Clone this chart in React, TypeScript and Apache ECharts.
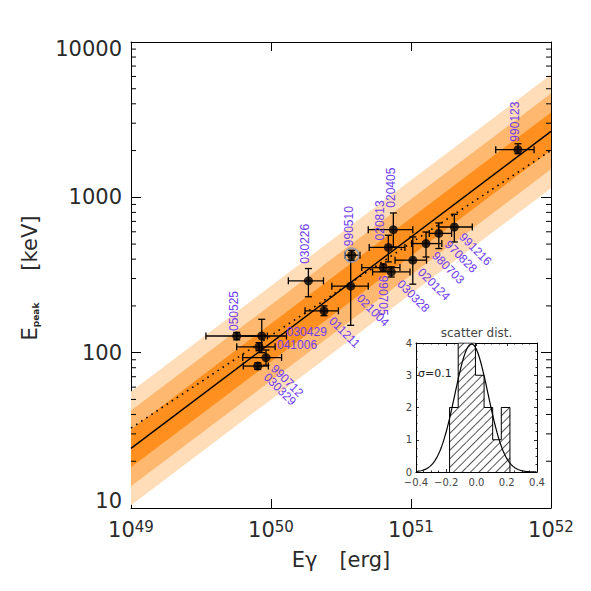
import React, { useEffect, useRef } from "react";
import * as echarts from "echarts";

// ---------------- data ----------------
const grbNames = ["050525", "030429", "041006", "990712", "030329", "011211", "030226", "990510", "021004", "990705", "030328", "020813", "020405", "020124", "980703", "970828", "991216", "990123"];
const eGamma = [5.69e49, 8.59e49, 8.21e49, 9.21e49, 8.04e49, 2.39e50, 1.85e50, 3.77e50, 3.71e50, 6.34e50, 7.23e50, 6.89e50, 7.48e50, 1.03e51, 1.28e51, 1.58e51, 2.04e51, 5.81e51];
const eGammaLow = [3.43e49, 5.69e49, 5.69e49, 6.28e49, 6.34e49, 1.75e50, 1.33e50, 3.38e50, 2.72e50, 4.45e50, 5.32e50, 5.03e50, 4.95e50, 7.69e50, 1.01e51, 1.35e51, 1.57e51, 4.03e51];
const eGammaHigh = [9.42e49, 1.29e50, 1.07e50, 1.19e50, 9.57e49, 3.03e50, 2.37e50, 4.32e50, 4.95e50, 8.34e50, 9.84e50, 9.05e50, 1.03e51, 1.29e51, 1.66e51, 1.95e51, 2.74e51, 7.57e51];
const ePeak = [128, 128, 109, 93, 82, 186, 290, 424, 268, 353, 331, 476, 619, 394, 504, 586, 644, 2028];
const ePeakLow = [121, 100, 103, 83, 78, 173, 229, 394, 150, 335, 307, 384, 479, 276, 413, 468, 516, 1910];
const ePeakHigh = [135, 164, 116, 104, 86, 200, 348, 456, 394, 372, 357, 570, 793, 556, 598, 684, 778, 2213];
const highlightedGrb = "990510";

const fitLine = [[1e49, 24.2], [1e52, 2660]];
const dottedLine = [[1e49, 32.7], [1e52, 2005]];
const bandHalfWidthDex = [0.366, 0.244, 0.122];

const yMinorTicks = [20, 30, 40, 50, 60, 70, 80, 90, 200, 300, 400, 500, 600, 700, 800, 900, 2000, 3000, 4000, 5000, 6000, 7000, 8000, 9000];

const histBinEdges = [-0.178, -0.121, -0.064, -0.007, 0.05, 0.107, 0.164, 0.221];
const histCounts = [2, 4, 4, 3, 2, 1, 2];
const scatterMean = -0.033;
const scatterSigma = 0.11;
const scatterPeak = 3.97;

// ---------------- styles / layout ----------------
const FONT = "DejaVu Sans ExtraLight, DejaVu Sans";
const LABEL_FONT = "Liberation Sans";
const TEXT_COLOR = "#2a2a2a";
const LABEL_COLOR = "#6E3CF0";
const BAND_COLORS = ["#FFDDB8", "#FFB870", "#FF901F"];
const plot = { left: 131, top: 42, width: 420, height: 466 };
const inset = { left: 416, top: 343, width: 121, height: 129 };

type Kind = "up" | "down" | "right" | "diag";
const labelPlacement: Record<string, [Kind, number, number]> = {
  "050525": ["up", -3, -5],
  "030429": ["right", 25, -4],
  "041006": ["right", 18, -2],
  "990712": ["diag", 7, 9],
  "030329": ["diag", 8, 9],
  "011211": ["diag", 7, 8],
  "030226": ["up", -3, -17],
  "990510": ["up", -3, -9],
  "021004": ["diag", 8, 10],
  "990705": ["down", 0, 8],
  "030328": ["diag", 8, 10],
  "020813": ["up", -8, -7],
  "020405": ["up", -2, -22],
  "020124": ["diag", 7, 10],
  "980703": ["diag", 8, 10],
  "970828": ["diag", 8, 9],
  "991216": ["diag", 7, 8],
  "990123": ["up", -3, -8],
};

function buildOption() {
  const histOutline: number[][] = [[histBinEdges[0], 0]];
  histCounts.forEach((c, i) => {
    histOutline.push([histBinEdges[i], c]);
    histOutline.push([histBinEdges[i + 1], c]);
  });
  histOutline.push([histBinEdges[histBinEdges.length - 1], 0]);

  const histBars = histCounts.map((c, i) => [(histBinEdges[i] + histBinEdges[i + 1]) / 2, c]);
  const binPx = ((histBinEdges[histBinEdges.length - 1] - histBinEdges[0]) / histCounts.length) * (inset.width / 0.8);

  const gauss: number[][] = [];
  for (let k = 0; k <= 200; k++) {
    const x = -0.4 + k * 0.004;
    gauss.push([x, scatterPeak * Math.exp(-((x - scatterMean) ** 2) / (2 * scatterSigma ** 2))]);
  }

  const hi = grbNames.indexOf(highlightedGrb);

  const mainTick = { show: true, inside: true, length: 9, lineStyle: { color: "#000", width: 1 } };
  const axisLine = { show: true, onZero: false, lineStyle: { color: "#000", width: 1 } };
  const insetTick = { show: true, inside: true, length: 3, lineStyle: { color: "#000", width: 0.8 } };
  const insetMinor = { show: true, length: 1.5, splitNumber: 4, lineStyle: { color: "#000", width: 0.8 } };
  const minusFmt = (v: number) => (v < -1e-9 ? "\u2212" : "") + Math.abs(v).toFixed(1);
  const yLabelStyle = { fontSize: 21, fontFamily: FONT, color: TEXT_COLOR };

  return {
    animation: false,
    backgroundColor: "#fff",
    grid: [
      { left: plot.left, top: plot.top, width: plot.width, height: plot.height, outerBoundsMode: "none", containLabel: false },
      { left: inset.left, top: inset.top, width: inset.width, height: inset.height, outerBoundsMode: "none", containLabel: false },
    ],
    xAxis: [
      {
        type: "log", gridIndex: 0, min: 1e49, max: 1e52, logBase: 10, position: "bottom",
        axisLine, axisTick: mainTick, splitLine: { show: false }, minorTick: { show: false },
        axisLabel: {
          margin: 11,
          formatter: (v: number) => `{b|10}{s|${Math.round(Math.log10(v))}}`,
          rich: {
            b: { fontSize: 21, fontFamily: FONT, color: TEXT_COLOR },
            s: { fontSize: 15, fontFamily: FONT, color: TEXT_COLOR, verticalAlign: "top" },
          },
        },
      },
      {
        type: "log", gridIndex: 0, min: 1e49, max: 1e52, logBase: 10, position: "top",
        axisLine, axisTick: mainTick, axisLabel: { show: false }, splitLine: { show: false },
      },
      {
        type: "value", gridIndex: 1, min: -0.4, max: 0.4, interval: 0.2, position: "bottom",
        axisLine, axisTick: insetTick, minorTick: insetMinor, splitLine: { show: false },
        axisLabel: { fontSize: 10, fontFamily: "DejaVu Sans", color: "#444", margin: 5, formatter: minusFmt },
      },
      {
        type: "value", gridIndex: 1, min: -0.4, max: 0.4, interval: 0.2, position: "top",
        axisLine, axisTick: insetTick, minorTick: insetMinor, splitLine: { show: false }, axisLabel: { show: false },
      },
    ],
    yAxis: [
      {
        type: "log", gridIndex: 0, min: 10, max: 10000, logBase: 10, position: "left",
        axisLine, axisTick: { ...mainTick, length: 10 }, splitLine: { show: false }, minorTick: { show: false },
        axisLabel: {
          margin: 9,
          formatter: (v: number) => {
            const r = Math.round(v);
            if (r <= 10) return `{lo|${r}}`;
            if (r >= 10000) return `{hi|${r}}`;
            return `{n|${r}}`;
          },
          rich: {
            n: yLabelStyle,
            lo: { ...yLabelStyle, padding: [0, 0, 15, 0] },
            hi: { ...yLabelStyle, padding: [13, 0, 0, 0] },
          },
        },
      },
      {
        type: "log", gridIndex: 0, min: 10, max: 10000, logBase: 10, position: "right",
        axisLine, axisTick: { ...mainTick, length: 10 }, axisLabel: { show: false }, splitLine: { show: false },
      },
      {
        type: "value", gridIndex: 1, min: 0, max: 4, interval: 1, position: "left",
        axisLine, axisTick: insetTick, minorTick: insetMinor, splitLine: { show: false },
        axisLabel: { fontSize: 10, fontFamily: "DejaVu Sans", color: "#444", margin: 4 },
      },
      {
        type: "value", gridIndex: 1, min: 0, max: 4, interval: 1, position: "right",
        axisLine, axisTick: insetTick, minorTick: insetMinor, splitLine: { show: false }, axisLabel: { show: false },
      },
    ],
    series: [
      {
        type: "custom", xAxisIndex: 0, yAxisIndex: 0, z: 1, silent: true,
        data: bandHalfWidthDex.map((w, i) => [fitLine[0][0], fitLine[0][1], i]),
        encode: { x: 0, y: 1 },
        renderItem: (params: any, api: any) => {
          const i = api.value(2);
          const f = Math.pow(10, bandHalfWidthDex[i]);
          const pts = [
            api.coord([fitLine[0][0], fitLine[0][1] * f]),
            api.coord([fitLine[1][0], fitLine[1][1] * f]),
            api.coord([fitLine[1][0], fitLine[1][1] / f]),
            api.coord([fitLine[0][0], fitLine[0][1] / f]),
          ];
          return { type: "polygon", shape: { points: pts }, style: { fill: BAND_COLORS[i], stroke: null } };
        },
      },
      {
        type: "line", xAxisIndex: 0, yAxisIndex: 0, z: 2, silent: true, symbol: "none",
        data: dottedLine, lineStyle: { color: "#000", width: 1.6, type: [1.6, 4.5] },
      },
      {
        type: "line", xAxisIndex: 0, yAxisIndex: 0, z: 2, silent: true, symbol: "none",
        data: fitLine, lineStyle: { color: "#000", width: 1.4 },
      },
      {
        type: "custom", xAxisIndex: 0, yAxisIndex: 0, z: 3, silent: true,
        data: eGamma.map((e, i) => [e, ePeak[i], eGammaLow[i], eGammaHigh[i], ePeakLow[i], ePeakHigh[i]]),
        encode: { x: [0, 2, 3], y: [1, 4, 5] },
        renderItem: (params: any, api: any) => {
          const e = api.value(0), p = api.value(1);
          const l = api.coord([api.value(2), p]);
          const r = api.coord([api.value(3), p]);
          const b = api.coord([e, api.value(4)]);
          const t = api.coord([e, api.value(5)]);
          const c = 3.5;
          const st = { stroke: "#000", lineWidth: 1.3 };
          const ln = (x1: number, y1: number, x2: number, y2: number) => ({ type: "line", shape: { x1, y1, x2, y2 }, style: st });
          return {
            type: "group",
            children: [
              ln(l[0], l[1], r[0], r[1]),
              ln(l[0], l[1] - c, l[0], l[1] + c),
              ln(r[0], r[1] - c, r[0], r[1] + c),
              ln(b[0], b[1], t[0], t[1]),
              ln(b[0] - c, b[1], b[0] + c, b[1]),
              ln(t[0] - c, t[1], t[0] + c, t[1]),
            ],
          };
        },
      },
      {
        type: "scatter", xAxisIndex: 0, yAxisIndex: 0, z: 4, silent: true,
        data: [[eGamma[hi], ePeak[hi]]], symbol: "circle", symbolSize: 14,
        itemStyle: { color: "rgba(0,0,0,0)", borderColor: "#8294BC", borderWidth: 1.6 },
      },
      {
        type: "scatter", xAxisIndex: 0, yAxisIndex: 0, z: 5, silent: true,
        data: eGamma.map((e, i) => [e, ePeak[i]]), symbol: "circle", symbolSize: 9,
        itemStyle: { color: "#000" },
      },
      {
        type: "custom", xAxisIndex: 0, yAxisIndex: 0, z: 6, silent: true,
        data: eGamma.map((e, i) => [e, ePeak[i], i]),
        encode: { x: 0, y: 1 },
        renderItem: (params: any, api: any) => {
          const name = grbNames[api.value(2)];
          const pt = api.coord([api.value(0), api.value(1)]);
          const [kind, dx, dy] = labelPlacement[name];
          const rot = kind === "up" ? Math.PI / 2 : kind === "down" ? -Math.PI / 2 : kind === "diag" ? -Math.PI / 4 : 0;
          return {
            type: "text", x: pt[0] + dx, y: pt[1] + dy, rotation: rot,
            style: { text: name, fill: LABEL_COLOR, fontSize: 12, lineHeight: 10, fontFamily: LABEL_FONT, align: "left", verticalAlign: "middle", textAlign: "left", textVerticalAlign: "middle" },
          };
        },
      },
      {
        type: "custom", xAxisIndex: 0, yAxisIndex: 0, z: 6, silent: true, clip: false,
        data: yMinorTicks.map((v) => [1e49, v]),
        encode: { x: 0, y: 1 },
        renderItem: (params: any, api: any) => {
          const v = api.value(1);
          const a = api.coord([1e49, v]);
          const b = api.coord([1e52, v]);
          const st = { stroke: "#000", lineWidth: 1 };
          return {
            type: "group",
            children: [
              { type: "line", shape: { x1: a[0], y1: a[1], x2: a[0] + 5, y2: a[1] }, style: st },
              { type: "line", shape: { x1: b[0] - 5, y1: b[1], x2: b[0], y2: b[1] }, style: st },
            ],
          };
        },
      },
      {
        type: "bar", xAxisIndex: 2, yAxisIndex: 2, z: 2, silent: true,
        data: histBars, barWidth: binPx + 0.6,
        itemStyle: {
          color: "#fff",
          decal: { symbol: "rect", symbolSize: 1, color: "#555", backgroundColor: "#fff", dashArrayX: [1, 0], dashArrayY: [1, 5], rotation: -Math.PI / 4 },
        },
      },
      {
        type: "line", xAxisIndex: 2, yAxisIndex: 2, z: 3, silent: true, symbol: "none",
        data: histOutline, lineStyle: { color: "#000", width: 1 },
      },
      {
        type: "line", xAxisIndex: 2, yAxisIndex: 2, z: 4, silent: true, symbol: "none",
        data: gauss, lineStyle: { color: "#000", width: 1.2 },
      },
    ],
    graphic: [
      {
        type: "text", x: 341, y: 560, z: 10,
        style: {
          text: "{e|E\u03b3}{g| }{e|[erg]}",
          rich: {
            e: { fontSize: 21, fontFamily: FONT, fill: TEXT_COLOR, color: TEXT_COLOR },
            g: { width: 22, fontSize: 21 },
          },
          align: "center", verticalAlign: "middle", textAlign: "center", textVerticalAlign: "middle",
        },
      },
      {
        type: "text", x: 30, y: 278, rotation: Math.PI / 2, z: 10,
        style: {
          text: "{e|E}{s|peak}{g| }{e|[keV]}",
          rich: {
            e: { fontSize: 21, fontFamily: FONT, fill: TEXT_COLOR, color: TEXT_COLOR },
            s: { fontSize: 9, fontFamily: "DejaVu Sans", fontWeight: "bold", fill: TEXT_COLOR, color: TEXT_COLOR, verticalAlign: "bottom" },
            g: { width: 32, fontSize: 21 },
          },
          align: "center", verticalAlign: "middle", textAlign: "center", textVerticalAlign: "middle",
        },
      },
      {
        type: "text", x: inset.left + inset.width / 2, y: 333, z: 10,
        style: { text: "scatter dist.", fontSize: 12, fontFamily: "DejaVu Sans", fill: "#444", align: "center", verticalAlign: "middle", textAlign: "center", textVerticalAlign: "middle" },
      },
      {
        type: "text", x: inset.left + 2, y: 373, z: 10,
        style: { text: "\u03c3=0.1", fontSize: 11, fontFamily: "DejaVu Sans", fill: "#222", align: "left", verticalAlign: "middle", textAlign: "left", textVerticalAlign: "middle" },
      },
    ],
  };
}

export default function App() {
  const ref = useRef<HTMLDivElement>(null);
  useEffect(() => {
    if (!ref.current) return;
    const chart = echarts.init(ref.current, undefined, { renderer: "svg" });
    chart.setOption(buildOption() as any);
    return () => chart.dispose();
  }, []);
  return <div ref={ref} style={{ position: "absolute", left: 0, top: 0, width: 591, height: 591, background: "#fff" }} />;
}
